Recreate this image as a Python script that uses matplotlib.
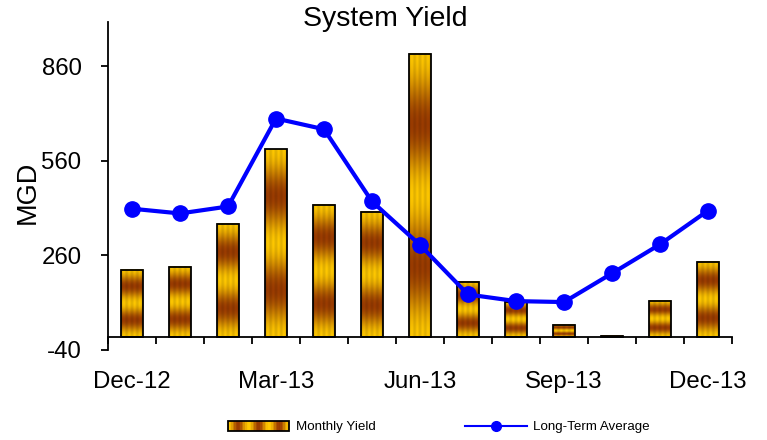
import numpy as np
import matplotlib
matplotlib.use("Agg")
import matplotlib.pyplot as plt
from matplotlib.lines import Line2D
from matplotlib.patches import Rectangle
from matplotlib.legend_handler import HandlerBase

plt.rcParams['font.family'] = ['Liberation Sans', 'DejaVu Sans']

months = ["Dec-12", "Jan-13", "Feb-13", "Mar-13", "Apr-13", "May-13", "Jun-13",
          "Jul-13", "Aug-13", "Sep-13", "Oct-13", "Nov-13", "Dec-13"]
monthly_yield = [215, 223, 360, 596, 421, 397, 899, 176, 112, 40, 4, 116, 238]
long_term_avg = [408, 393, 415, 694, 660, 431, 293, 136, 115, 112, 203, 295, 402]
ytick_vals = [-40, 260, 560, 860]
xlabel_months = ["Dec-12", "Mar-13", "Jun-13", "Sep-13", "Dec-13"]

GOLD = np.array([255, 200, 0]) / 255.0
BROWN = np.array([155, 60, 0]) / 255.0


def bar_texture(nrows=200, ncols=40):
    t = np.linspace(0, 1, nrows)[:, None]
    w = (1 + np.cos(4 * np.pi * t)) / 2  # gold weight
    xs = np.linspace(0, 1, ncols)[None, :]
    stripe = 1 - 0.12 * (0.5 + 0.5 * np.cos(2 * np.pi * 4 * xs))
    img = w[..., None] * GOLD + (1 - w[..., None]) * BROWN
    img = img * stripe[..., None]
    return np.clip(img, 0, 1)


fig = plt.figure(figsize=(7.67, 4.40), dpi=100)
ax = fig.add_axes([108 / 767, 1 - 350 / 440, (732 - 108) / 767, (350 - 22) / 440])

x = np.arange(len(months))
width = 0.44
bars = ax.bar(x, monthly_yield, width, color='none', edgecolor='black',
              linewidth=1.3, zorder=3)
tex = bar_texture()
for b in bars:
    x0, y0 = b.get_x(), b.get_y()
    w, h = b.get_width(), b.get_height()
    if h <= 0:
        continue
    ax.imshow(tex, extent=[x0, x0 + w, y0, y0 + h], aspect='auto',
              origin='upper', zorder=2, interpolation='bilinear')

ax.plot(x, long_term_avg, color='#0000FF', lw=3, marker='o', ms=11, zorder=4)

ax.set_xlim(-0.5, len(months) - 0.5)
ax.set_ylim(-40, 1000)
ax.set_aspect('auto')

for s in ['top', 'right']:
    ax.spines[s].set_visible(False)
ax.spines['bottom'].set_position(('data', 0))
ax.spines['bottom'].set_linewidth(1.3)
ax.spines['left'].set_linewidth(1.3)

ax.set_yticks(ytick_vals)
ax.set_yticklabels([str(v) for v in ytick_vals], fontsize=17.3)
ax.tick_params(axis='y', direction='out', length=5, width=1.3, pad=14)

label_pos = [months.index(m) for m in xlabel_months]
ax.set_xticks(label_pos)
ax.set_xticklabels(xlabel_months, fontsize=17.3)
ax.tick_params(axis='x', which='major', length=0, pad=24)
ax.set_xticks(np.arange(-0.5, len(months), 1.0), minor=True)
ax.tick_params(axis='x', which='minor', direction='out', length=5, width=1.3)

fig.text(28 / 767, 1 - 192 / 440, "MGD", rotation=90, fontsize=19.5,
         ha='center', va='center')
fig.text(385 / 767, 1 - 19 / 440, "System Yield", fontsize=20.5,
         ha='center', va='center')


class GradientHandler(HandlerBase):
    def create_artists(self, legend, orig_handle, xdescent, ydescent, width,
                       height, fontsize, trans):
        arts = []
        n = 40
        for i in range(n):
            t = (i + 0.5) / n
            wgt = (1 + np.cos(2 * np.pi * 3 * t)) / 2
            c = wgt * GOLD + (1 - wgt) * BROWN
            r = Rectangle((xdescent + i * width / n, -ydescent), width / n, height,
                          facecolor=c, edgecolor='none', transform=trans)
            arts.append(r)
        arts.append(Rectangle((-xdescent, -ydescent), width, height,
                              facecolor='none', edgecolor='black', lw=1.3,
                              transform=trans))
        return arts


bar_handle = Rectangle((0, 0), 1, 1)
line_handle = Line2D([], [], color='#0000FF', lw=1.5, marker='o', ms=7)
fig.legend([bar_handle, line_handle], ["Monthly Yield", "Long-Term Average"],
           handler_map={Rectangle: GradientHandler()},
           loc='center', bbox_to_anchor=(439 / 767, 1 - 427 / 440), ncol=2,
           frameon=False, fontsize=9.6, handlelength=4.6, handleheight=0.75,
           columnspacing=6.7, handletextpad=0.5)

fig.savefig("out.png", dpi=100)
